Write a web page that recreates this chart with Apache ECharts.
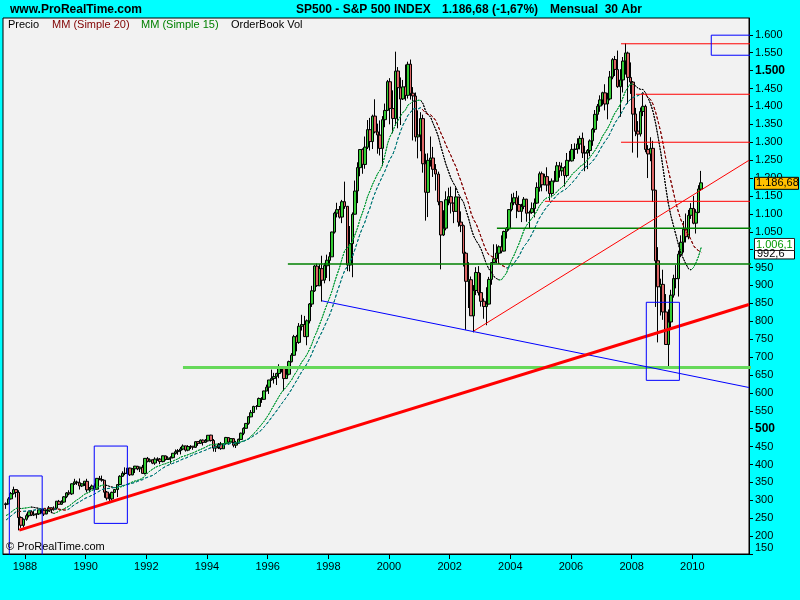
<!DOCTYPE html>
<html><head><meta charset="utf-8">
<script src="https://cdn.jsdelivr.net/npm/echarts@6/dist/echarts.min.js"></script>
<style>html,body{margin:0;padding:0;background:#00FFFF;overflow:hidden}#c{width:800px;height:600px}</style>
</head><body><div id="c"></div>
<script>
// Monthly S&P 500 bars, index 0 = May 1987 ... index 275 = Apr 2010
const firstYear = 1987, firstMonth = 5;
// closes before the first bar (Sep 1985 .. Apr 1987), used for the moving averages
const priorCloses = [182.08,189.82,202.17,211.28,211.78,226.92,238.90,235.52,247.35,250.84,236.12,252.93,231.32,243.98,249.22,242.17,274.08,284.20,291.70,288.36];
const opens = [
288,290,304,319,330,322,252,230,
247,257,268,259,261,262,274,272,262,272,279,274,
278,297,289,295,310,321,318,346,351,349,340,346,
353,329,332,340,331,361,358,356,323,306,304,322,
330,344,367,375,375,390,371,388,395,388,392,375,
417,409,413,404,415,415,408,424,414,418,419,431,
436,439,443,452,440,450,451,448,464,459,468,462,
466,482,467,446,451,457,444,458,475,463,472,454,
459,470,487,501,515,533,545,562,562,584,582,605,
616,636,640,646,654,669,671,640,652,687,705,757,
741,786,791,757,801,848,885,954,899,947,915,955,
970,980,1049,1102,1112,1091,1134,1121,957,1017,1099,1164,
1229,1280,1238,1286,1335,1302,1373,1329,1320,1283,1363,1389,
1469,1394,1366,1499,1452,1421,1455,1431,1518,1437,1429,1315,
1320,1366,1240,1160,1249,1256,1224,1211,1134,1041,1060,1139,
1148,1130,1107,1147,1077,1067,990,912,916,815,886,936,
880,856,841,848,917,964,975,990,1008,996,1051,1058,
1112,1131,1145,1126,1107,1121,1141,1102,1104,1115,1130,1174,
1212,1181,1204,1181,1157,1192,1191,1234,1220,1229,1207,1249,
1248,1280,1281,1295,1311,1270,1270,1277,1304,1336,1378,1401,
1418,1438,1407,1421,1482,1531,1503,1455,1474,1527,1549,1481,
1468,1379,1331,1323,1386,1400,1280,1267,1283,1166,969,896,
903,826,735,798,873,919,919,987,1021,1057,1036,1096,
1115,1074,1104,1169];
const highs = [
294,309,323,338,330,328,255,249,
263,268,272,270,263,274,274,273,273,284,280,283,
297,301,300,312,323,328,347,360,355,361,347,353,
360,337,344,347,362,368,369,356,326,319,324,331,
344,370,381,392,390,391,390,396,396,394,399,418,
421,417,414,420,420,418,425,425,423,423,432,442,
443,449,456,452,454,454,451,465,464,470,470,471,
482,483,471,453,460,463,459,477,476,474,474,466,
472,489,504,515,535,552,564,566,587,588,606,623,
636,665,656,656,680,675,673,667,690,711,762,762,
795,818,815,805,851,899,957,961,960,983,963,986,
993,1050,1106,1131,1122,1139,1190,1122,1066,1104,1193,1244,
1280,1283,1316,1362,1368,1377,1420,1352,1361,1373,1408,1474,
1479,1445,1553,1510,1481,1474,1517,1525,1531,1454,1439,1389,
1384,1377,1268,1269,1316,1287,1239,1218,1134,1110,1163,1173,
1176,1131,1174,1147,1107,1070,994,965,925,901,951,954,
935,864,895,924,965,1015,1015,1012,1040,1053,1063,1112,
1156,1159,1164,1151,1128,1147,1142,1109,1132,1143,1188,1218,
1218,1212,1230,1192,1199,1220,1245,1245,1243,1233,1270,1276,
1295,1297,1311,1318,1327,1290,1281,1308,1340,1390,1407,1431,
1441,1462,1438,1499,1535,1541,1556,1504,1538,1576,1553,1523,
1471,1396,1359,1397,1440,1405,1292,1314,1304,1167,1007,919,
944,876,833,888,930,957,997,1040,1080,1101,1111,1130,
1150,1113,1180,1220];
const lows = [
276,289,302,316,308,216,223,224,
243,252,256,256,249,259,263,256,261,271,264,271,
274,287,287,293,306,314,315,343,343,330,337,340,
322,322,332,324,330,356,352,307,300,295,300,322,
309,343,365,370,372,368,370,376,384,379,374,372,
406,406,401,399,410,401,406,411,413,402,417,428,
427,428,440,436,437,443,441,446,452,458,453,460,
464,464,436,435,443,441,444,455,455,459,448,446,
458,470,482,500,511,532,545,553,562,572,581,605,
597,634,626,622,641,657,605,640,649,685,704,716,
737,774,756,733,794,840,882,896,899,855,906,921,
912,980,1045,1090,1087,1074,1114,940,939,923,1098,1130,
1205,1212,1226,1281,1277,1281,1325,1268,1263,1233,1342,1387,
1350,1325,1346,1339,1348,1418,1416,1422,1419,1305,1302,1255,
1275,1215,1081,1091,1232,1203,1165,1124,945,1038,1054,1124,
1101,1074,1106,1064,1049,953,776,837,815,769,873,872,
841,807,789,847,902,964,962,960,990,995,1031,1053,
1107,1124,1088,1105,1077,1113,1078,1060,1100,1090,1128,1162,
1163,1180,1163,1137,1146,1188,1190,1201,1206,1176,1202,1246,
1246,1253,1268,1280,1256,1219,1225,1261,1290,1327,1360,1385,
1403,1389,1364,1417,1476,1485,1452,1371,1439,1489,1407,1435,
1271,1317,1257,1316,1373,1272,1200,1247,1133,840,741,816,
804,735,667,783,866,892,869,979,992,1020,1029,1086,
1071,1045,1102,1164];
const closes = [
290.10,304.00,318.66,329.80,321.83,251.79,230.30,247.08,
257.07,267.82,258.89,261.33,262.16,273.50,272.02,261.52,271.91,278.97,273.70,277.72,
297.47,288.86,294.87,309.64,320.52,317.98,346.08,351.45,349.15,340.36,345.99,353.40,
329.08,331.89,339.94,330.80,361.23,358.02,356.15,322.56,306.05,304.00,322.22,330.22,
343.93,367.07,375.22,375.34,389.83,371.16,387.81,395.43,387.86,392.46,375.22,417.09,
408.79,412.70,403.69,414.95,415.35,408.14,424.21,414.03,417.80,418.68,431.35,435.71,
438.78,443.38,451.67,440.19,450.19,450.53,448.13,463.56,458.93,467.83,461.79,466.45,
481.61,467.14,445.77,450.91,456.50,444.27,458.26,475.49,462.69,472.35,453.69,459.27,
470.42,487.39,500.71,514.71,533.40,544.75,562.06,561.88,584.41,581.50,605.37,615.93,
636.02,640.43,645.50,654.17,669.12,670.63,639.95,651.99,687.33,705.27,757.02,740.74,
786.16,790.82,757.12,801.34,848.28,885.14,954.29,899.47,947.28,914.62,955.40,970.43,
980.28,1049.34,1101.75,1111.75,1090.82,1133.84,1120.67,957.28,1017.01,1098.67,1163.63,1229.23,
1279.64,1238.33,1286.37,1335.18,1301.84,1372.71,1328.72,1320.41,1282.71,1362.93,1388.91,1469.25,
1394.46,1366.42,1498.58,1452.43,1420.60,1454.60,1430.83,1517.68,1436.51,1429.40,1314.95,1320.28,
1366.01,1239.94,1160.33,1249.46,1255.82,1224.42,1211.23,1133.58,1040.94,1059.78,1139.45,1148.08,
1130.20,1106.73,1147.39,1076.92,1067.14,989.82,911.62,916.07,815.28,885.76,936.31,879.82,
855.70,841.15,848.18,916.92,963.59,974.50,990.31,1008.01,995.97,1050.71,1058.20,1111.92,
1131.13,1144.94,1126.21,1107.30,1120.68,1140.84,1101.72,1104.24,1114.58,1130.20,1173.82,1211.92,
1181.27,1203.60,1180.59,1156.85,1191.50,1191.33,1234.18,1220.33,1228.81,1207.01,1249.48,1248.29,
1280.08,1280.66,1294.83,1310.61,1270.09,1270.20,1276.66,1303.82,1335.85,1377.94,1400.63,1418.30,
1438.24,1406.82,1420.86,1482.37,1530.62,1503.35,1455.27,1473.99,1526.75,1549.38,1481.14,1468.36,
1378.55,1330.63,1322.70,1385.59,1400.38,1280.00,1267.38,1282.83,1166.36,968.75,896.24,903.25,
825.88,735.09,797.87,872.81,919.14,919.32,987.48,1020.62,1057.08,1036.19,1095.63,1115.10,
1073.87,1104.49,1169.43,1186.69];

// tick labels
const yTickValues = [150,200,250,300,350,400,450,500,550,600,650,700,750,800,850,900,950,1000,1050,1100,1150,1200,1250,1300,1350,1400,1450,1500,1550,1600];
const boldTicks = [500,1500];
const xYears = [1988,1990,1992,1994,1996,1998,2000,2002,2004,2006,2008,2010];

// drawn annotations: [start bar index, level]
const redLevels = [[243.3,1575],[249.2,1434],[243.3,1300],[213.2,1135]];
const greenLevels = [[194.2,1060],[111.5,960]];
const supportLevel = [[70.0,671]];
const blueTrend = [[125.0,857],[293.9,615]];
const thinRedTrend = [[185.1,773],[293.9,1249.5]];
const thickRedTrend = [[5.25,216.8],[293.9,846.7]];
// boxes: [x1, x2, lowValue, highValue]
const boxes = [[1.3,14.3,100,368],[34.9,48.0,235.5,451.5],[253.3,266.4,635,853],[279.0,300,1543,1599]];

const titleText = ['SP500 - S&P 500 INDEX','1.186,68 (-1,67%)','Mensual  30 Abr'];
const lastLabel = '1.186,68', lastValue = 1186.68;
const ma15Label = '1.006,1', ma20Label = '992,6';

const X_MIN = -1.2, X_MAX = 293.93;
const FONT = 'Liberation Sans, Arial, sans-serif';

function sma(n){
  const all = priorCloses.concat(closes), off = priorCloses.length, out = [];
  for (let i = 0; i < closes.length; i++) {
    let s = 0; for (let k = i + off - n + 1; k <= i + off; k++) s += all[k];
    out.push(s / n);
  }
  return out;
}
const ma15 = sma(15), ma20 = sma(20);
function slopePieces(ma, up, down){
  const pieces = []; let start = -10; let dir = ma[1] >= ma[0];
  for (let i = 1; i < ma.length; i++) {
    const d = ma[i] >= ma[i-1];
    if (d !== dir) { pieces.push({gte: start, lt: i-1, color: dir ? up : down}); start = i-1; dir = d; }
  }
  pieces.push({gte: start, lte: 1000, color: dir ? up : down});
  return pieces;
}
function fmtY(v){ if (v >= 1000) return '1.' + String(v - 1000).padStart(3,'0'); return String(v); }

const candles = closes.map((c,i) => [i, opens[i], c, lows[i], highs[i]]);

function lineSeries(points, color, width, z){
  return {type:'line', data: points, symbol:'none', silent:true, animation:false, z: z||5,
    lineStyle:{color: color, width: width, type:'solid'}, emphasis:{disabled:true}};
}
const series = [
  {type:'candlestick', data: candles, encode:{x:0, y:[1,2,3,4]}, barWidth:3, z:2, animation:false,
   itemStyle:{color:'#33CC33', color0:'#DD6666', borderColor:'#000', borderColor0:'#000', borderWidth:1}},
  {type:'line', data: ma15.map((v,i)=>[i,v]), symbol:'none', z:3, animation:false, silent:true,
   lineStyle:{width:1, type:[2,1]}},
  {type:'line', data: ma20.map((v,i)=>[i,v]), symbol:'none', z:3, animation:false, silent:true,
   lineStyle:{width:1, type:[3,2]}}
];
redLevels.forEach(l => series.push(lineSeries([[l[0],l[1]],[300,l[1]]], '#FF0000', 1)));
greenLevels.forEach(l => series.push(lineSeries([[l[0],l[1]],[300,l[1]]], '#008000', 1.5)));
supportLevel.forEach(l => series.push(lineSeries([[l[0],l[1]],[300,l[1]]], '#66D95A', 3)));
series.push(lineSeries(blueTrend, '#0000FF', 1));
series.push(lineSeries(thinRedTrend, '#FF0000', 1));
series.push(lineSeries(thickRedTrend, '#FF0000', 3));
boxes.forEach(b => series.push(lineSeries([[b[0],b[2]],[b[0],b[3]],[b[1],b[3]],[b[1],b[2]],[b[0],b[2]]], '#0000FF', 1, 6)));

const chart = echarts.init(document.getElementById('c'), null, {renderer:'canvas'});
chart.setOption({
  backgroundColor:'#00FFFF',
  animation:false,
  grid:{left:3, top:18, width:746, height:536, show:true, backgroundColor:'#F2F2F2', borderColor:'#000', borderWidth:1},
  xAxis:{type:'value', min:X_MIN, max:X_MAX, splitLine:{show:false},
    axisLine:{show:true, onZero:false, lineStyle:{color:'#000'}},
    axisTick:{show:true, length:5, lineStyle:{color:'#000'}, customValues: xYears.map(y => 7.5 + (y-1988)*12)},
    axisLabel:{color:'#000', fontSize:11, fontFamily:FONT, margin:7, customValues: xYears.map(y => 7.5 + (y-1988)*12),
      formatter: v => String(Math.round(1988 + (v-7.5)/12))}},
  yAxis:{type:'value', position:'right', min:150, max:1647, splitLine:{show:false},
    axisLine:{show:true, onZero:false, lineStyle:{color:'#000'}},
    axisTick:{show:true, length:4, lineStyle:{color:'#000'}, customValues: yTickValues},
    axisLabel:{color:'#000', fontSize:11, fontFamily:FONT, margin:6, customValues: yTickValues.filter(v => v !== 150),
      formatter: v => boldTicks.includes(v) ? '{b|' + fmtY(v) + '}' : fmtY(v),
      rich:{b:{fontWeight:'bold', fontSize:12, fontFamily:FONT, color:'#000'}}}},
  visualMap:[
    {type:'piecewise', show:false, seriesIndex:1, dimension:0, pieces: slopePieces(ma15, '#009933', '#000000')},
    {type:'piecewise', show:false, seriesIndex:2, dimension:0, pieces: slopePieces(ma20, '#007777', '#800000')}
  ],
  series: series
});

const yp = v => chart.convertToPixel({yAxisIndex:0}, v);
function txt(x, y, text, opts){
  return Object.assign({type:'text', x:x, y:y, z:100, silent:true,
    style:Object.assign({text:text, fill:'#000', font:'11px ' + FONT, textVerticalAlign:'middle', verticalAlign:'middle'}, opts||{})});
}
const pY = yp(lastValue);
const m15Y = yp(1006.1) - 3;
chart.setOption({graphic:[
  txt(10, 10, 'www.ProRealTime.com', {font:'bold 12px ' + FONT}),
  txt(296, 10, titleText[0], {font:'bold 12px ' + FONT}),
  txt(442, 10, titleText[1], {font:'bold 12px ' + FONT}),
  txt(550, 10, titleText[2], {font:'bold 12px ' + FONT}),
  txt(8, 25, 'Precio'),
  txt(52, 25, 'MM (Simple 20)', {fill:'#800000'}),
  txt(141, 25, 'MM (Simple 15)', {fill:'#008000'}),
  txt(231, 25, 'OrderBook Vol'),
  txt(6, 547, '© ProRealTime.com'),
  txt(755, 548, '150'),
  {type:'rect', z:98, silent:true, shape:{x:754.5, y:m15Y + 3.5, width:40, height:11}, style:{fill:'#FFFFFF', stroke:'#000', lineWidth:1}},
  txt(757, m15Y + 9, ma20Label, {fill:'#000'}),
  {type:'rect', z:99, silent:true, shape:{x:754.5, y:m15Y - 6, width:40, height:12}, style:{fill:'#FFFFFF', stroke:'#222', lineWidth:1}},
  Object.assign(txt(756, m15Y, ma15Label, {fill:'#009900'}), {z:101}),
  {type:'rect', z:99, silent:true, shape:{x:754.5, y:pY - 5.5, width:44, height:12}, style:{fill:'#FFC000', stroke:'#000', lineWidth:1}},
  Object.assign(txt(756, pY + 0.5, lastLabel), {z:101})
]});
</script></body></html>
